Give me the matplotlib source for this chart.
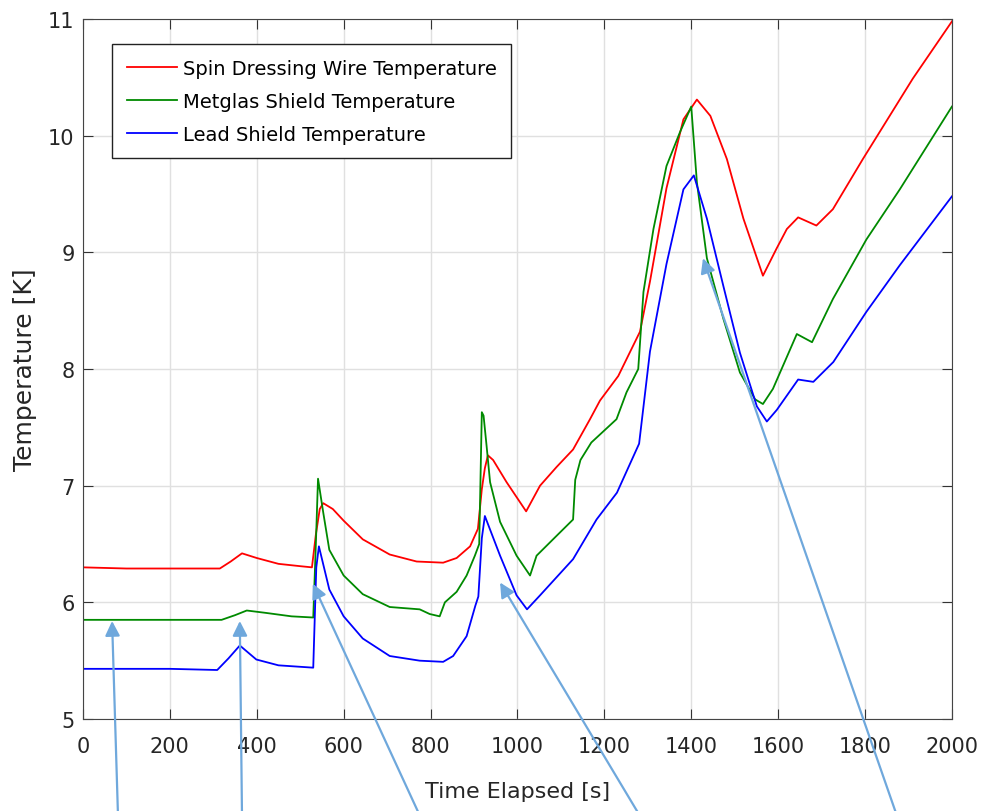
import matplotlib.pyplot as plt
import numpy as np

# values
t_red = [0, 100, 200, 315, 340, 366, 400, 450, 500, 527, 536, 545, 553, 575, 600, 644, 706, 768,
         829, 860, 891, 909, 918, 925, 932, 944, 975, 1020, 1052, 1090, 1128, 1167, 1190, 1232,
         1282, 1305, 1343, 1382, 1413, 1444, 1482, 1520, 1565, 1596, 1620, 1646, 1688, 1726,
         1795, 1910, 2000]
T_red = [6.30, 6.29, 6.29, 6.29, 6.35, 6.42, 6.38, 6.33, 6.31, 6.30, 6.58, 6.80, 6.85, 6.80, 6.70,
         6.54, 6.41, 6.35, 6.34, 6.38, 6.48, 6.63, 6.97, 7.15, 7.26, 7.22, 7.03, 6.78, 7.00, 7.16,
         7.31, 7.57, 7.73, 7.94, 8.32, 8.75, 9.55, 10.14, 10.31, 10.17, 9.80, 9.29, 8.80, 9.03,
         9.20, 9.30, 9.23, 9.37, 9.80, 10.49, 10.98]

t_green = [0, 100, 200, 319, 350, 377, 420, 480, 530, 536, 541, 553, 567, 600, 644, 706, 775, 798,
           821, 833, 860, 883, 902, 912, 918, 922, 929, 937, 960, 998, 1029, 1044, 1090, 1128,
           1133, 1145, 1170, 1228, 1251, 1278, 1290, 1313, 1343, 1374, 1400, 1413, 1436, 1474,
           1512, 1547, 1565, 1588, 1643, 1678, 1726, 1803, 1880, 2000]
T_green = [5.85, 5.85, 5.85, 5.85, 5.89, 5.93, 5.91, 5.88, 5.87, 6.50, 7.06, 6.77, 6.45, 6.23,
           6.07, 5.96, 5.94, 5.90, 5.88, 6.00, 6.09, 6.23, 6.40, 6.50, 7.63, 7.60, 7.34, 7.03,
           6.69, 6.40, 6.23, 6.40, 6.57, 6.71, 7.05, 7.22, 7.37, 7.57, 7.80, 8.00, 8.66, 9.20,
           9.74, 10.03, 10.25, 9.60, 8.95, 8.43, 7.97, 7.74, 7.70, 7.83, 8.30, 8.23, 8.60, 9.11,
           9.54, 10.25]

t_blue = [0, 100, 200, 309, 335, 361, 399, 450, 530, 537, 543, 567, 600, 644, 706, 775, 829, 852,
          883, 903, 910, 918, 925, 960, 998, 1022, 1052, 1128, 1182, 1229, 1280, 1305, 1343,
          1382, 1406, 1436, 1474, 1512, 1551, 1574, 1597, 1646, 1681, 1727, 1803, 1880, 2000]
T_blue = [5.43, 5.43, 5.43, 5.42, 5.52, 5.63, 5.51, 5.46, 5.44, 6.30, 6.48, 6.11, 5.88, 5.69,
          5.54, 5.50, 5.49, 5.54, 5.71, 5.97, 6.05, 6.55, 6.74, 6.40, 6.06, 5.94, 6.06, 6.37,
          6.71, 6.94, 7.36, 8.15, 8.90, 9.54, 9.66, 9.29, 8.71, 8.14, 7.68, 7.55, 7.65, 7.91,
          7.89, 8.06, 8.49, 8.89, 9.48]

# arrow heads (data) and tails (figure pixels, below the canvas)
arrow_heads = [(67, 5.84), (361, 5.84), (529, 6.16), (960, 6.17), (1427, 8.95)]
arrow_tails = [(118, -5), (242, -5), (420, -5), (640, -5), (897, -5)]

fig = plt.figure(figsize=(9.83, 8.12), dpi=100)
ax = fig.add_axes([0.0844, 0.1133, 0.884, 0.862])

ax.plot(t_red, T_red, color='#ff0000', lw=1.3, label='Spin Dressing Wire Temperature')
ax.plot(t_green, T_green, color='#008a00', lw=1.3, label='Metglas Shield Temperature')
ax.plot(t_blue, T_blue, color='#0000ff', lw=1.3, label='Lead Shield Temperature')

ax.set_xlim(0, 2000)
ax.set_ylim(5, 11)
ax.set_xticks(np.arange(0, 2001, 200))
ax.set_yticks(np.arange(5, 12, 1))
ax.grid(True, color='#e0e0e0', lw=1)
ax.tick_params(direction='in', top=True, right=True, length=7, labelsize=15,
               colors='#333333', labelcolor='#262626')
ax.tick_params(axis='x', pad=12)
ax.tick_params(axis='y', pad=6)
for s in ax.spines.values():
    s.set_color('#444444')
ax.set_xlabel('Time Elapsed [s]', fontsize=16, color='#262626', labelpad=18)
ax.set_ylabel('Temperature [K]', fontsize=18, color='#262626', labelpad=8)

leg = ax.legend(loc='upper left', bbox_to_anchor=(0.0334, 0.964), borderaxespad=0,
                fontsize=14, fancybox=False, edgecolor='#222222', framealpha=1,
                handlelength=2.6, handletextpad=0.3, borderpad=0.75, labelspacing=0.72)
leg.get_frame().set_linewidth(1.0)

for head, tail in zip(arrow_heads, arrow_tails):
    ax.annotate('', xy=head, xycoords='data', xytext=tail, textcoords='figure pixels',
                annotation_clip=False,
                arrowprops=dict(arrowstyle='-|>', color='#6fa8dc', lw=1.6,
                                mutation_scale=22, shrinkA=0, shrinkB=0))

fig.savefig('out.png', dpi=100)
